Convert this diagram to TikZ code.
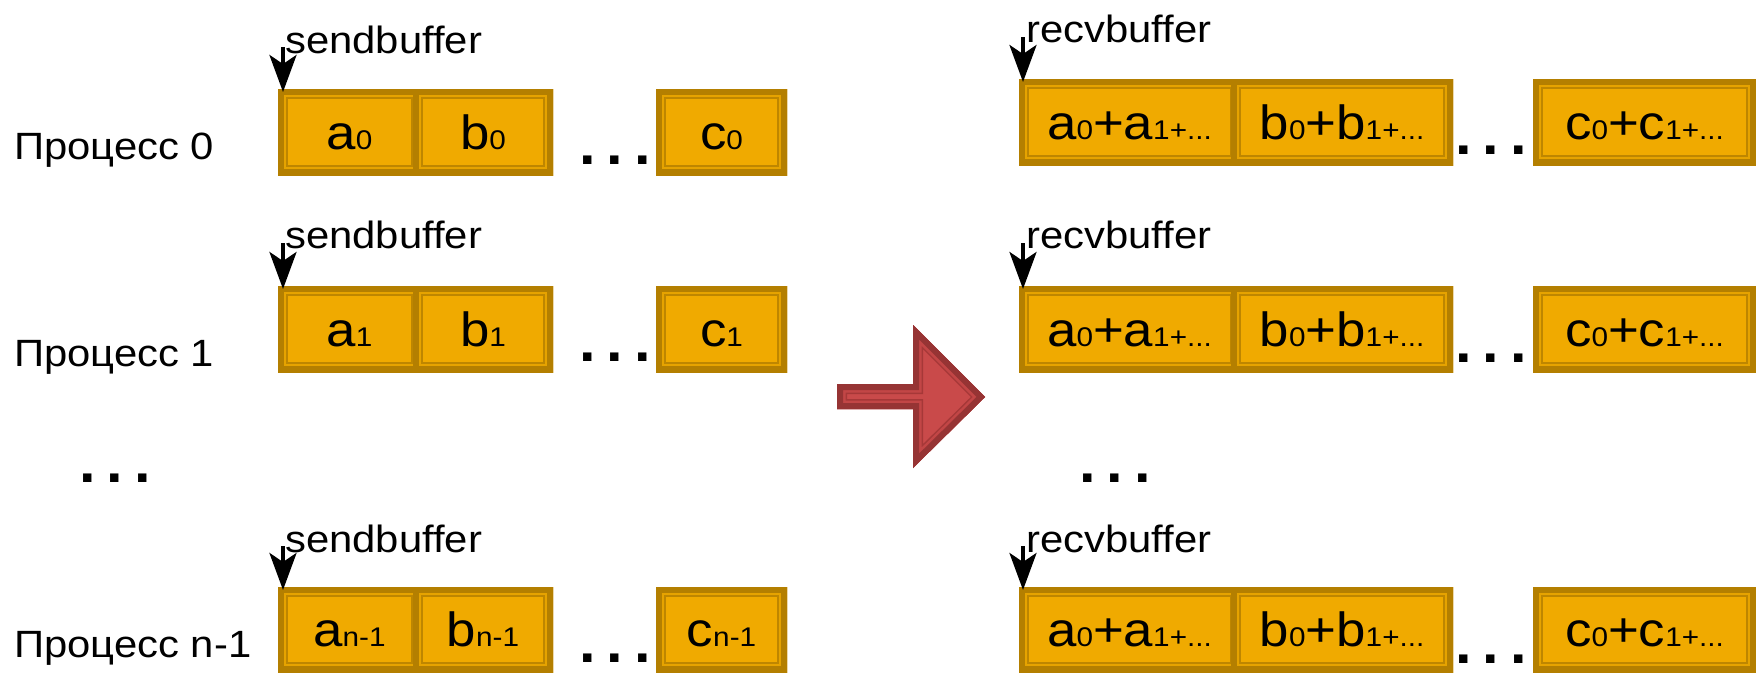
\documentclass[tikz,border=0pt]{standalone}
\usepackage{fontspec}
\setmainfont{Liberation Sans}[FakeStretch=1.1]
\usetikzlibrary{arrows.meta,calc}

\definecolor{cellfill}{HTML}{F0AA00}
\definecolor{cellband}{HTML}{E6A300}
\definecolor{cellline}{HTML}{BE8600}
\definecolor{celldark}{HTML}{B47F00}
\definecolor{arrfill}{HTML}{C94A4A}
\definecolor{arrband}{HTML}{C24646}
\definecolor{arrline}{HTML}{A63838}
\definecolor{arrdark}{HTML}{963434}

\newcommand\ix[1]{{\fontsize{27}{27}\selectfont #1}}
\newcommand\lblsize{\fontsize{38}{38}\selectfont}
\newcommand\cellsize{\fontsize{48}{48}\selectfont}
\newcommand\dotrow{{\fontsize{80}{80}\selectfont .\kern3pt.\kern3pt.}}

\tikzset{
  cell/.style={inner sep=0pt, outer sep=0pt, anchor=north west,
    fill=cellfill, text height=34pt, text depth=0pt, font=\cellsize,
    path picture={
      \draw[draw=cellline, line width=19.4pt]
        (path picture bounding box.south west) rectangle (path picture bounding box.north east);
      \draw[draw=cellband, line width=16.8pt]
        (path picture bounding box.south west) rectangle (path picture bounding box.north east);
      \draw[draw=celldark, line width=11.4pt]
        (path picture bounding box.south west) rectangle (path picture bounding box.north east);
    }},
  lbl/.style={inner sep=0pt, anchor=base west, font=\lblsize},
  dotsnode/.style={inner sep=0pt, anchor=base west, text height=10pt, text depth=0pt},
  ptr/.style={line width=4pt, -{Stealth[length=37pt,width=27pt,inset=9pt]}}
}

\begin{document}
\begin{tikzpicture}[x=1pt,y=-1pt]
\useasboundingbox (0,0) rectangle (1756,673);

% ---- process labels ----
\node[lbl] (p0) at (14,159) {Процесс 0};
\node[lbl] (p1) at (14,366) {Процесс 1};
\node[lbl] (pn) at (14,657) {Процесс n-1};
\node[dotsnode] (pdots) at (75,482) {\dotrow};

% ---- send buffers ----
\foreach \r/\top/\h/\lab/\arr/\dy/\idx in {0/89/86/53/47/164/0, 1/286/86/248/243/361/1, n/587/85/552/546/662/n-1}{
  \node[cell, minimum width=143pt, minimum height=\h pt] (sa\r) at (278,\top) {a\ix{\idx}};
  \node[cell, minimum width=140pt, minimum height=\h pt] (sb\r) at (413,\top) {b\ix{\idx}};
  \node[cell, minimum width=131pt, minimum height=\h pt] (sc\r) at (656,\top) {c\ix{\idx}};
  \node[dotsnode] (sd\r) at (575,\dy) {\dotrow};
  \node[lbl] (sl\r) at (285,\lab) {sendbuffer};
  \coordinate (sp\r) at (283,\arr);
  \draw[ptr] (sp\r) -- ($(sp\r |- sa\r.north)+(0,3)$);
}

% ---- receive buffers ----
\foreach \r/\top/\h/\lab/\arr/\dy in {0/79/86/42/37/154, 1/286/86/248/243/362, n/587/85/552/546/663}{
  \node[cell, minimum width=221pt, minimum height=\h pt] (ra\r) at (1019,\top) {a\ix{0}+a\ix{1+...}};
  \node[cell, minimum width=222pt, minimum height=\h pt] (rb\r) at (1231,\top) {b\ix{0}+b\ix{1+...}};
  \node[cell, minimum width=223pt, minimum height=\h pt] (rc\r) at (1533,\top) {c\ix{0}+c\ix{1+...}};
  \node[dotsnode] (rd\r) at (1451,\dy) {\dotrow};
  \node[lbl] (rl\r) at (1026,\lab) {recvbuffer};
  \coordinate (rp\r) at (1023,\arr);
  \draw[ptr] (rp\r) -- ($(rp\r |- ra\r.north)+(0,3)$);
}
\node[dotsnode] (rdots) at (1075,482) {\dotrow};

% ---- big transition arrow ----
\def\bigarrow{(837,384) -- (913,384) -- (913,325) -- (985,397) -- (913,468) -- (913,409) -- (837,409) -- cycle}
\fill[arrfill] \bigarrow;
\begin{scope}
  \clip \bigarrow;
  \draw[arrline, line width=20pt] \bigarrow;
  \draw[arrband, line width=17pt] \bigarrow;
  \draw[arrdark, line width=12pt] \bigarrow;
\end{scope}
\end{tikzpicture}
\end{document}
